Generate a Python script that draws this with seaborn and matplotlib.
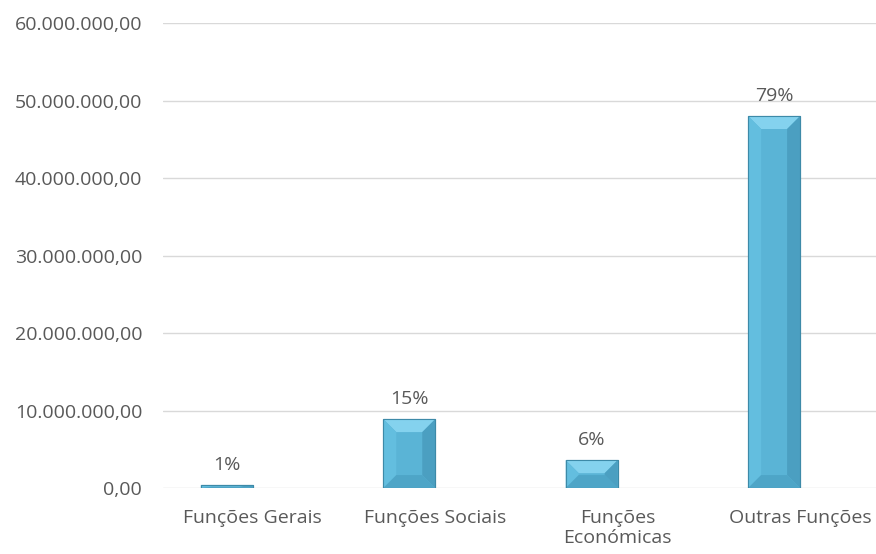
import matplotlib
matplotlib.use("Agg")
import matplotlib.pyplot as plt
import seaborn as sns
import pandas as pd
from matplotlib.patches import Polygon

categories = ["Funções Gerais", "Funções Sociais", "Funções\nEconómicas", "Outras Funções"]
values = [400000, 8900000, 3600000, 48000000]
pct_labels = ["1%", "15%", "6%", "79%"]
y_ticks = [0, 10000000, 20000000, 30000000, 40000000, 50000000, 60000000]
# Excel cluster had a second, empty series, so bars sit left of category centre
series_order = ["Despesa", "vazia"]

sns.set_style("white")
plt.rcParams['font.family'] = ['Open Sans', 'DejaVu Sans']
text_color = "#595959"

df = pd.DataFrame({"categoria": categories, "valor": values, "serie": "Despesa"})

fig = plt.figure(figsize=(8.76, 5.54), dpi=100)
ax = fig.add_axes([0.186, 0.119, 0.814, 0.8395])

sns.barplot(data=df, x="categoria", y="valor", hue="serie", hue_order=series_order,
            palette=["#5ab4d6", "#5ab4d6"], width=0.57, dodge=True, legend=False,
            saturation=1, edgecolor="#3d8aa8", linewidth=0.8, ax=ax, zorder=3)

ax.set_xlim(-0.493, 3.416)
ax.set_ylim(0, 60000000)
ax.set_yticks(y_ticks)
ax.set_yticklabels([f"{v:,.2f}".replace(",", "X").replace(".", ",").replace("X", ".") for v in y_ticks])
ax.grid(axis="y", color="#d9d9d9", linewidth=1, zorder=0)
ax.set_axisbelow(True)
for s in ax.spines.values():
    s.set_visible(False)
ax.set_xlabel("")
ax.set_ylabel("")
ax.tick_params(axis="both", length=0, labelsize=14, labelcolor=text_color)
ax.tick_params(axis="y", pad=15)
ax.tick_params(axis="x", pad=15)
for t in ax.get_xticklabels():
    t.set_linespacing(1.15)

# bevel faces on each bar
fig.canvas.draw()
inv = ax.transData.inverted()
x0d, y0d = inv.transform((0, 0))
x1d, y1d = inv.transform((13, 13))
bev_x, bev_y = x1d - x0d, y1d - y0d
bars = sorted([p for p in ax.patches if p.get_height() > 0], key=lambda p: p.get_x())
for p, lab in zip(bars, pct_labels):
    x, y, w, h = p.get_x(), p.get_y(), p.get_width(), p.get_height()
    dx = min(bev_x, w / 2)
    dy = min(bev_y, h / 2)
    xl, xr, yb, yt = x, x + w, y, y + h
    il, ir, ib, it = xl + dx, xr - dx, yb + dy, yt - dy
    faces = [
        ([(xl, yt), (xr, yt), (ir, it), (il, it)], "#84d2ee"),
        ([(xl, yb), (xl, yt), (il, it), (il, ib)], "#63bedf"),
        ([(xr, yb), (xr, yt), (ir, it), (ir, ib)], "#4b9fc1"),
        ([(xl, yb), (xr, yb), (ir, ib), (il, ib)], "#4ea5c7"),
    ]
    for pts, c in faces:
        ax.add_patch(Polygon(pts, closed=True, facecolor=c, edgecolor="none", zorder=4))
    ax.add_patch(Polygon([(xl, yb), (xr, yb), (xr, yt), (xl, yt)], closed=True,
                         fill=False, edgecolor="#3d8aa8", linewidth=0.8, zorder=5))
    ax.annotate(lab, (x + w / 2, yt), xytext=(0, 8), textcoords="offset points",
                ha="center", va="bottom", fontsize=14, color=text_color)

fig.savefig("out.png", dpi=100, facecolor="white")
